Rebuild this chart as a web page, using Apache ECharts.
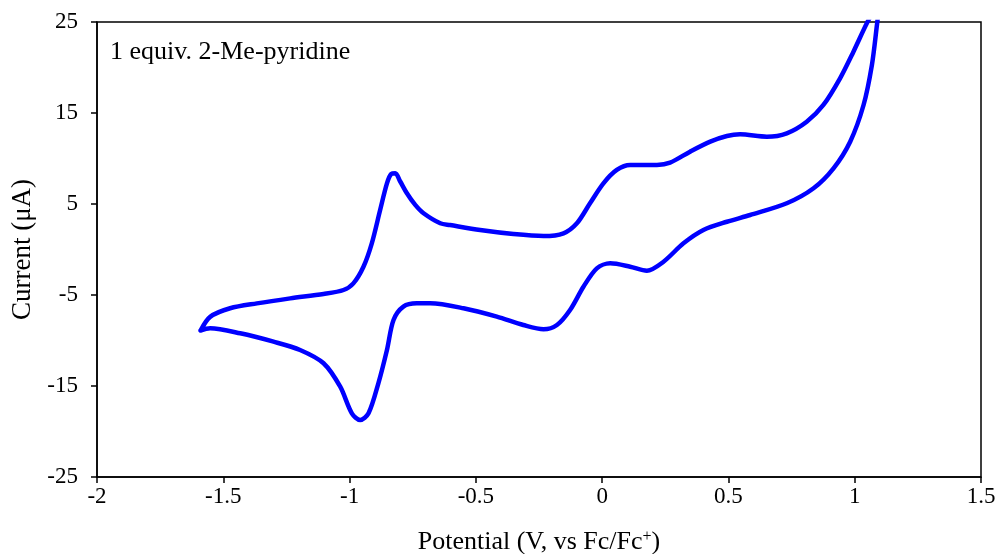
<!DOCTYPE html>
<html>
<head>
<meta charset="utf-8">
<script src="https://cdn.jsdelivr.net/npm/echarts@6/dist/echarts.min.js"></script>
<style>
  html, body { margin: 0; padding: 0; background: #fff; }
  #chart_cv { width: 997px; height: 554px; }
</style>
</head>
<body>
<div id="chart_cv"></div>
<script>
// cyclic voltammogram, forward scan then return scan (V vs Fc/Fc+, uA)
let potential = [
    -1.59, -1.552, -1.473, -1.367, -1.235, -1.103, -1.024, -0.985, -0.945, -0.912,
    -0.879, -0.852, -0.835, -0.819, -0.800, -0.773, -0.740, -0.707, -0.641, -0.602,
    -0.483, -0.351, -0.232, -0.153, -0.100, -0.048, 0.005, 0.058, 0.111, 0.217,
    0.269, 0.348, 0.428, 0.494, 0.546, 0.652, 0.731, 0.810, 0.876, 0.942,
    0.995, 1.048, 1.10,
    1.088, 1.068, 1.035, 0.982, 0.916, 0.837, 0.731, 0.586, 0.494, 0.401,
    0.322, 0.243, 0.177, 0.111, 0.032, -0.021, -0.074, -0.127, -0.179, -0.232,
    -0.312, -0.417, -0.549, -0.681, -0.734, -0.787, -0.826, -0.852, -0.886, -0.925,
    -0.958, -0.991, -1.037, -1.103, -1.196, -1.301, -1.433, -1.552, -1.59
];
let current = [
    -8.9, -7.4, -6.46, -5.92, -5.37, -4.89, -4.45, -3.72, -1.89, 0.68,
    4.34, 7.27, 8.3, 8.37, 7.5, 6.18, 4.9, 3.98, 2.88, 2.69,
    2.14, 1.70, 1.48, 1.78, 2.88, 5.08, 7.27, 8.74, 9.29, 9.29,
    9.54, 10.75, 11.85, 12.47, 12.66, 12.4, 12.77, 14.04, 15.88, 18.81,
    21.74, 24.86, 27.5,
    24.67, 20.27, 15.88, 11.85, 8.92, 6.73, 5.08, 3.79, 3.05, 2.14,
    0.68, -1.34, -2.33, -1.89, -1.52, -2.07, -4.09, -6.65, -8.30, -8.77,
    -8.30, -7.38, -6.46, -5.92, -5.92, -6.28, -7.75, -11.04, -14.70, -18.0,
    -18.74, -18.0, -15.08, -12.5, -11.04, -10.13, -9.21, -8.66, -8.9
];
let yTicks = [-25, -15, -5, 5, 15, 25];

let cvData = potential.map((v, i) => [v, current[i]]);

let serif = 'Liberation Serif';

let myChart = echarts.init(document.getElementById("chart_cv"));

let option = {
    animation: false,
    title: {
        text: '1 equiv. 2-Me-pyridine',
        left: 110,
        top: 39,
        padding: 0,
        textStyle: { fontFamily: serif, fontSize: 26, fontWeight: 'normal', color: '#000' }
    },
    grid: {
        left: 97, right: 16, top: 22, bottom: 77,
        outerBoundsMode: 'none',
        containLabel: false,
        show: true,
        borderColor: '#000',
        borderWidth: 1.5
    },
    xAxis: {
        type: 'value',
        min: -2,
        max: 1.5,
        interval: 0.5,
        name: 'Potential (V, vs Fc/Fc{sup|+})',
        nameLocation: 'middle',
        nameGap: 52,
        nameTextStyle: {
            fontFamily: serif, fontSize: 26, color: '#000',
            rich: { sup: { fontFamily: serif, fontSize: 16, color: '#000', verticalAlign: 'top', padding: [0, 0, 10, 0] } }
        },
        splitLine: { show: false },
        axisLine: { onZero: false, lineStyle: { color: '#000', width: 1.5 } },
        axisTick: { length: 6, lineStyle: { color: '#000', width: 1.5 } },
        axisLabel: { fontFamily: serif, fontSize: 23, color: '#000', margin: 8 }
    },
    yAxis: {
        type: 'value',
        min: -25,
        max: 25,
        name: 'Current (μA)',
        nameLocation: 'middle',
        nameGap: 61,
        nameTextStyle: { fontFamily: serif, fontSize: 27, color: '#000' },
        splitLine: { show: false },
        axisLine: { onZero: false, lineStyle: { color: '#000', width: 1.5 } },
        axisTick: { length: 6, customValues: yTicks, lineStyle: { color: '#000', width: 1.5 } },
        axisLabel: { fontFamily: serif, fontSize: 23, color: '#000', margin: 19, customValues: yTicks }
    },
    series: [{
        type: 'line',
        data: cvData,
        smooth: 0.3,
        showSymbol: false,
        clip: true,
        lineStyle: { color: '#0000ff', width: 4.5, cap: 'round', join: 'round' }
    }]
};

myChart.setOption(option);
</script>
</body>
</html>
